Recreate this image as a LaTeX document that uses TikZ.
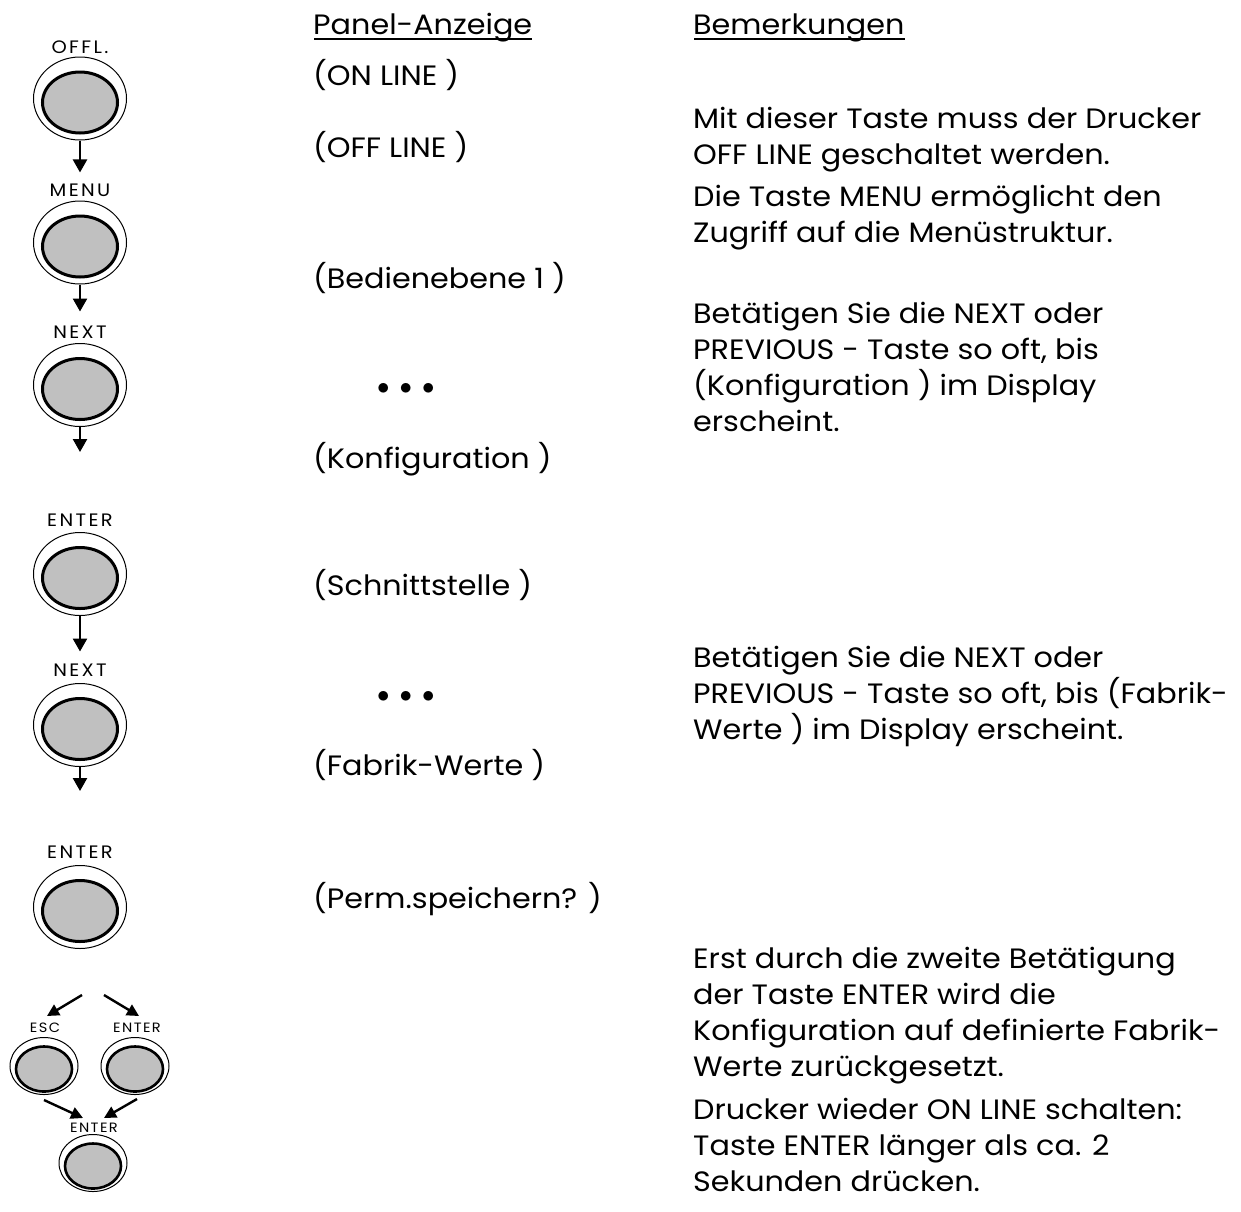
\documentclass[tikz,border=0pt]{standalone}
\usepackage{fontspec}
\setmainfont{Poppins}[FakeStretch=1.08]
\usetikzlibrary{shapes.geometric,arrows.meta,calc}
\definecolor{btngray}{HTML}{C0C0C0}
\newcommand\lsp{\kern2.4pt}
\newcommand\lss{\kern1.4pt}
\begin{document}
\begin{tikzpicture}[x=1pt,y=-1pt,
  outer/.style={ellipse,draw,line width=1pt,minimum width=93pt,minimum height=83pt,inner sep=0pt},
  inner/.style={ellipse,draw,line width=3pt,fill=btngray,minimum width=75pt,minimum height=61pt,inner sep=0pt},
  souter/.style={ellipse,draw,line width=1pt,minimum width=68pt,minimum height=57pt,inner sep=0pt},
  sinner/.style={ellipse,draw,line width=2.6pt,fill=btngray,minimum width=56pt,minimum height=45pt,inner sep=0pt},
  blabel/.style={inner sep=0pt,font=\fontsize{18}{18}\selectfont},
  slabel/.style={inner sep=0pt,font=\fontsize{13.5}{14}\selectfont},
  txt/.style={inner sep=0pt,anchor=base west,align=left,font=\fontsize{28}{36}\selectfont},
  arr/.style={line width=2.4pt,-{Triangle[width=14pt,length=13pt]}},
  darr/.style={line width=2.4pt,-{Triangle[width=12pt,length=12pt]}}]
\useasboundingbox[fill=white] (0,0) rectangle (1241,1211);

% ---- buttons column ----
\node[blabel] (l1) at (80,47) {O\lsp F\lsp F\lsp L\lsp .};
\node[outer] (b1) at (80,98.5) {};
\node[inner] (b1i) at (80,102.5) {};
\node[blabel] (l2) at (80,190) {M\lsp E\lsp N\lsp U};
\node[outer] (b2) at (80,242.5) {};
\node[inner] (b2i) at (80,246.5) {};
\node[blabel] (l3) at (80,332) {N\lsp E\lsp X\lsp T};
\node[outer] (b3) at (80,385) {};
\node[inner] (b3i) at (80,389) {};
\coordinate (e3) at (80,452);
\node[blabel] (l4) at (80,520) {E\lsp N\lsp T\lsp E\lsp R};
\node[outer] (b4) at (80,574) {};
\node[inner] (b4i) at (80,578) {};
\node[blabel] (l5) at (80,670) {N\lsp E\lsp X\lsp T};
\node[outer] (b5) at (80,725) {};
\node[inner] (b5i) at (80,729) {};
\coordinate (e5) at (80,791);
\node[blabel] (l6) at (80,852) {E\lsp N\lsp T\lsp E\lsp R};
\node[outer] (b6) at (80,907) {};
\node[inner] (b6i) at (80,911) {};

\draw[arr,shorten >=11pt] (b1.south) -- (l2.north);
\draw[arr,shorten >=14pt] (b2.south) -- (l3.north);
\draw[arr] (b3.south) -- (e3);
\draw[arr,shorten >=12pt] (b4.south) -- (l5.north);
\draw[arr] (b5.south) -- (e5);

% small buttons
\coordinate (s0l) at (82,995);
\coordinate (s0r) at (104,995);
\node[slabel] (l7) at (45,1028) {E\lss S\lss C};
\node[souter] (b7) at (44,1066) {};
\node[sinner] (b7i) at (44,1069) {};
\node[slabel] (l8) at (137,1028) {E\lss N\lss T\lss E\lss R};
\node[souter] (b8) at (135,1066) {};
\node[sinner] (b8i) at (135,1069) {};
\node[slabel] (l9) at (94,1128) {E\lss N\lss T\lss E\lss R};
\node[souter] (b9) at (93,1163) {};
\node[sinner] (b9i) at (93,1166) {};
\coordinate (t7) at (47,1016);
\coordinate (t8) at (139,1016);
\coordinate (q7) at (44,1100);
\coordinate (q8) at (137,1099);
\coordinate (u9) at (83,1118);
\coordinate (v9) at (104,1118);
\draw[darr] (s0l) -- (t7);
\draw[darr] (s0r) -- (t8);
\draw[darr] (q7) -- (u9);
\draw[darr] (q8) -- (v9);

% ---- headers ----
\node[txt] (h1) at (313,34) {Panel-Anzeige};
\node[txt] (h2) at (693,34) {Bemerkungen};
\draw[line width=2.8pt] ($(h1.base west)+(1,5)$) -- ($(h1.base east)+(0,5)$);
\draw[line width=2.8pt] ($(h2.base west)+(1,5)$) -- ($(h2.base east)+(0,5)$);

% ---- panel display column ----
\node[txt] (p1) at (313,85) {(ON LINE )};
\node[txt] (p2) at (313,157) {(OFF LINE )};
\node[txt] (p3) at (313,288) {(Bedienebene 1 )};
\node[txt] (p4) at (377,394) {$\bullet$\hspace{10pt}$\bullet$\hspace{10pt}$\bullet$};
\node[txt] (p5) at (313,468) {(Konfiguration )};
\node[txt] (p6) at (313,595) {(Schnittstelle )};
\node[txt] (p7) at (377,702) {$\bullet$\hspace{10pt}$\bullet$\hspace{10pt}$\bullet$};
\node[txt] (p8) at (313,775) {(Fabrik-Werte )};
\node[txt] (p9) at (313,908) {(Perm.speichern? )};

% ---- remarks column (base anchor = last line) ----
\node[txt] (r1) at (693,164) {Mit dieser Taste muss der Drucker\\OFF LINE geschaltet werden.};
\node[txt] (r2) at (693,242) {Die Taste MENU ermöglicht den\\Zugriff auf die Menüstruktur.};
\node[txt] (r3) at (693,431) {Betätigen Sie die NEXT oder\\PREVIOUS - Taste so oft, bis\\(Konfiguration ) im Display\\erscheint.};
\node[txt] (r4) at (693,739) {Betätigen Sie die NEXT oder\\PREVIOUS - Taste so oft, bis (Fabrik-\\Werte ) im Display erscheint.};
\node[txt] (r5) at (693,1076) {Erst durch die zweite Betätigung\\der Taste ENTER wird die\\Konfiguration auf definierte Fabrik-\\Werte zurückgesetzt.};
\node[txt] (r6) at (693,1191) {Drucker wieder ON LINE schalten:\\Taste ENTER länger als ca. 2\\Sekunden drücken.};
\end{tikzpicture}
\end{document}
